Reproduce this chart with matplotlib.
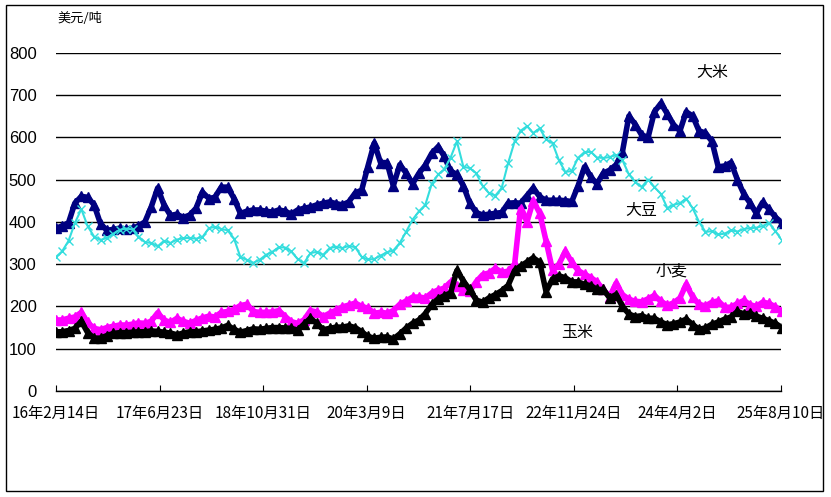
import pandas as pd
import matplotlib.pyplot as plt
from matplotlib.patches import Rectangle

plt.rcParams['font.family'] = ['Noto Sans CJK SC', 'DejaVu Sans']

# monthly readings, Feb 2016 .. Aug 2025 (USD/ton)
dates = pd.date_range('2016-02-01', periods=115, freq='MS') + pd.Timedelta(days=13)

rice = [385, 390, 398, 444, 460, 458, 440, 395, 380, 382,
        385, 383, 385, 390, 400, 435, 480, 440, 415, 418,
        410, 416, 432, 470, 455, 458, 482, 482, 455, 420,
        425, 428, 428, 425, 423, 428, 425, 418, 428, 432,
        435, 440, 444, 447, 443, 440, 447, 468, 475, 530,
        586, 540, 540, 485, 535, 515, 490, 515, 534, 562,
        578, 555, 520, 512, 485, 445, 422, 416, 418, 420,
        422, 444, 445, 444, 462, 480, 459, 451, 451, 451,
        450, 448, 485, 530, 505, 490, 515, 522, 535, 565,
        650, 630, 605, 600, 660, 680, 655, 630, 615, 660,
        650, 615, 610, 590, 530, 532, 540, 499, 465, 445,
        420, 446, 430, 411, 398]

soybean = [317, 330, 355, 397, 430, 390, 365, 357, 362, 372,
           381, 384, 382, 365, 352, 350, 342, 355, 350, 358,
           361, 362, 360, 364, 385, 388, 383, 380, 360, 317,
           310, 303, 310, 322, 329, 340, 339, 330, 312, 302,
           326, 329, 322, 338, 341, 338, 343, 340, 317, 311,
           312, 320, 328, 332, 350, 377, 405, 425, 440, 490,
           512, 524, 552, 590, 530, 527, 515, 485, 468, 462,
           480, 539, 590, 615, 626, 610, 621, 595, 586, 545,
           518, 520, 551, 565, 565, 552, 551, 553, 558, 546,
           512, 494, 482, 500, 482, 466, 432, 440, 444, 455,
           432, 400, 376, 378, 370, 372, 380, 377, 383, 385,
           386, 390, 397, 378, 357]

wheat = [168, 168, 172, 175, 186, 162, 148, 145, 150, 153,
         156, 156, 158, 161, 160, 165, 185, 168, 162, 172,
         165, 160, 167, 173, 177, 175, 186, 188, 193, 202,
         205, 188, 186, 186, 187, 190, 176, 164, 160, 168,
         190, 187, 176, 184, 191, 199, 203, 208, 200, 196,
         184, 186, 184, 190, 205, 213, 222, 222, 220, 232,
         239, 243, 258, 248, 239, 236, 258, 275, 279, 290,
         281, 283, 300, 430, 400, 450, 420, 355, 286, 300,
         330, 305, 285, 276, 268, 258, 240, 223, 255, 228,
         217, 212, 211, 218, 226, 212, 203, 208, 220, 252,
         222, 205, 201, 210, 213, 198, 198, 207, 214, 204,
         200, 210, 207, 199, 188]

corn = [140, 140, 143, 148, 165, 138, 125, 125, 131, 136,
        138, 138, 139, 140, 140, 142, 141, 139, 137, 133,
        137, 140, 140, 142, 144, 146, 149, 155, 146, 139,
        143, 147, 146, 148, 150, 150, 149, 148, 144, 158,
        172, 160, 145, 148, 151, 151, 154, 150, 140, 129,
        125, 127, 128, 123, 135, 149, 160, 168, 183, 205,
        218, 225, 232, 285, 260, 240, 215, 210, 220, 228,
        237, 250, 285, 295, 305, 315, 304, 235, 265, 272,
        268, 258, 258, 252, 249, 240, 240, 220, 228, 200,
        182, 176, 178, 172, 172, 163, 157, 159, 163, 170,
        157, 146, 149, 158, 163, 170, 175, 188, 182, 184,
        177, 172, 166, 160, 150]

tick_dates = pd.date_range('2016-02-14', periods=8, freq='495D')

fig = plt.figure(figsize=(8.31, 4.97), dpi=100)
fig.patches.append(Rectangle((6 / 831, 6 / 497), 817 / 831, 486 / 497,
                             transform=fig.transFigure, fill=False,
                             edgecolor='black', linewidth=1))
ax = fig.add_axes([56 / 831, 106 / 497, 725 / 831, 338.4 / 497])

ax.plot(dates, rice, color='#000080', marker='^', markersize=7, linewidth=4)
ax.plot(dates, wheat, color='#FF00FF', marker='^', markersize=7, linewidth=4)
ax.plot(dates, corn, color='black', marker='^', markersize=7, linewidth=4)
ax.plot(dates, soybean, color='#33DDDD', marker='x', markersize=6,
        markeredgewidth=1, linewidth=1.5)

ax.set_ylim(0, 800)
ax.set_yticks(range(0, 801, 100))
ax.set_xlim(tick_dates[0], tick_dates[-1])
ax.set_xticks(tick_dates)
ax.set_xticklabels([f'{d.year % 100}年{d.month}月{d.day}日' for d in tick_dates],
                   family=['Liberation Sans Narrow', 'Noto Sans CJK SC'])
for lab in ax.get_yticklabels():
    lab.set_family(['Liberation Sans', 'DejaVu Sans'])
ax.yaxis.grid(True, color='black', linewidth=1)
ax.set_axisbelow(True)
for s in ['left', 'right', 'top']:
    ax.spines[s].set_visible(False)
ax.spines['bottom'].set_linewidth(1)
ax.tick_params(axis='y', length=0, pad=14, labelsize=12)
ax.tick_params(axis='x', direction='in', length=4, pad=10, labelsize=11)

fig.text(80 / 831, 1 - 18 / 497, '美元/吨', fontsize=9.5, ha='center', va='center')
fig.text(712 / 831, 1 - 73 / 497, '大米', fontsize=11.5, ha='center', va='center')
fig.text(641 / 831, 1 - 211 / 497, '大豆', fontsize=11.5, ha='center', va='center')
fig.text(672 / 831, 1 - 271 / 497, '小麦', fontsize=11.5, ha='center', va='center')
fig.text(577 / 831, 1 - 333 / 497, '玉米', fontsize=11.5, ha='center', va='center')

fig.savefig('out.png', dpi=100)
